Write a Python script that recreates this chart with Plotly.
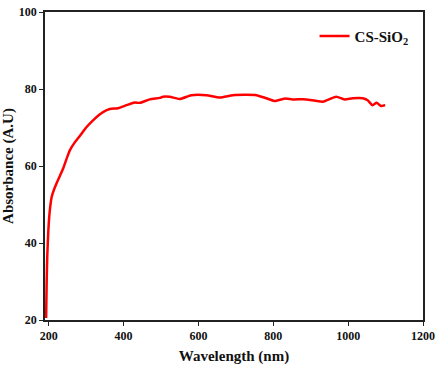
import plotly.graph_objects as go

wavelength = [193, 194.5, 196, 199, 203, 208, 217, 230, 239, 250, 257, 270, 283, 300, 319, 335, 345,
              363, 385, 408, 430, 443, 470, 497, 505, 523, 550, 581, 621, 657, 692, 728, 755,
              781, 803, 830, 852, 888, 932, 968, 990, 1012, 1039, 1052, 1065, 1076, 1088, 1099]
absorbance = [20.5, 30, 36.4, 43.4, 48.6, 52.0, 54.6, 57.5, 59.5, 62.5, 64.2, 66.2, 67.8, 70.0, 71.9, 73.3, 74.0,
              74.8, 75.0, 75.8, 76.5, 76.4, 77.3, 77.7, 78.0, 78.0, 77.4, 78.4, 78.4, 77.8, 78.4, 78.5, 78.4,
              77.6, 76.9, 77.5, 77.3, 77.3, 76.7, 78.0, 77.3, 77.6, 77.6, 77.1, 75.8, 76.4, 75.6, 75.8]

x_ticks = [200, 400, 600, 800, 1000, 1200]
y_ticks = [20, 40, 60, 80, 100]

font_family = "Liberation Serif"

fig = go.Figure()
fig.add_trace(go.Scatter(
    x=wavelength, y=absorbance, mode="lines",
    line=dict(color="#ff0000", width=2.5, shape="spline", smoothing=0.6),
    name="<b>CS-SiO<sub>2</sub></b>",
))

axis_common = dict(
    showgrid=False, zeroline=False, showline=True, linecolor="#222222", linewidth=1.5,
    mirror=True, ticks="outside", ticklen=4, tickwidth=1.2, tickcolor="#222222",
    automargin=False,
    tickfont=dict(family=font_family, size=12, color="#111111", weight="bold"),
)

fig.update_layout(
    width=439, height=369,
    margin=dict(l=45, r=16, t=12, b=49),
    paper_bgcolor="white", plot_bgcolor="white",
    font=dict(family=font_family, color="#111111"),
    xaxis=dict(range=[190, 1200], tickvals=x_ticks,
               title=dict(text="<b>Wavelength (nm)</b>", font=dict(family=font_family, size=15), standoff=8),
               **axis_common),
    yaxis=dict(range=[20, 100], tickvals=y_ticks,
               title=dict(text="<b>Absorbance (A.U)</b>", font=dict(family=font_family, size=15), standoff=6),
               **axis_common),
    showlegend=True,
    legend=dict(x=0.975, y=0.975, xanchor="right", yanchor="top", bgcolor="rgba(0,0,0,0)",
                itemwidth=30, font=dict(family=font_family, size=15, color="#111111")),
)

fig.write_html("out.html", config={"displayModeBar": False},
               post_script="document.body.style.margin='0px';")
